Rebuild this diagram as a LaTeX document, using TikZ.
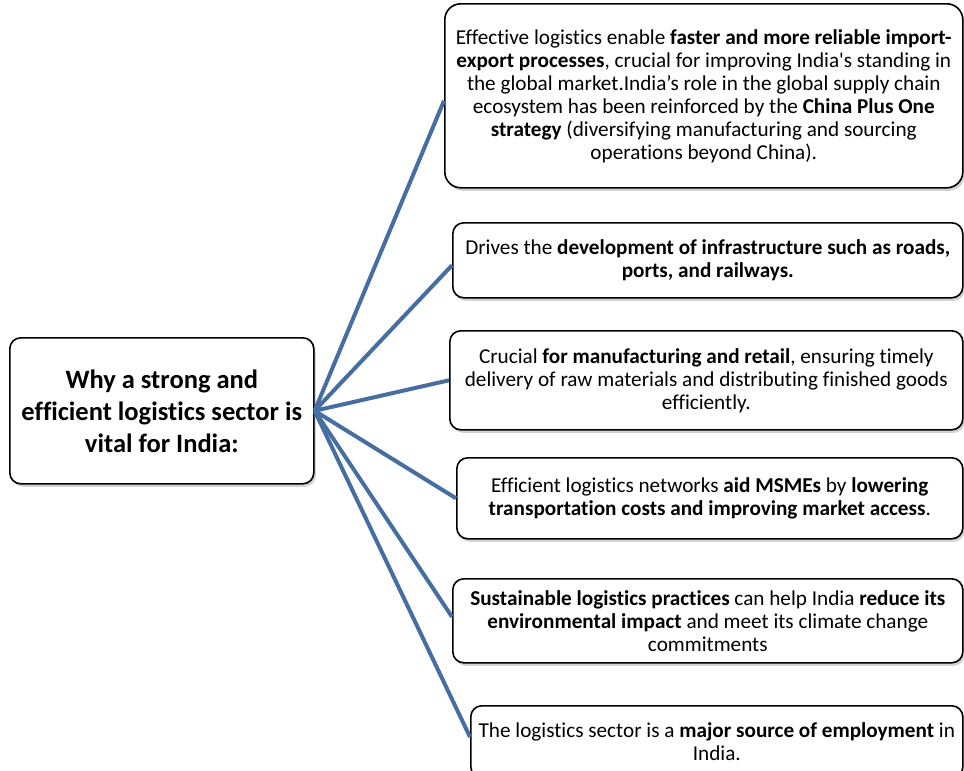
\documentclass[tikz,border=0pt]{standalone}
\usepackage{fontspec}
\setmainfont{Carlito}[Ligatures={TeX,NoCommon}]
\usetikzlibrary{shadows}
\definecolor{linkblue}{RGB}{70,110,160}
\tikzset{
  box/.style={draw=black, line width=1.6pt, rounded corners=11pt, fill=white,
    align=center, inner sep=0pt, anchor=north west,
    drop shadow={opacity=0.35, shadow xshift=2pt, shadow yshift=-3pt},
    font=\fontsize{21.2}{23}\selectfont},
  link/.style={draw=linkblue, line width=4pt}
}
\begin{document}
\begin{tikzpicture}[x=1pt,y=-1pt]
\useasboundingbox (0,0) rectangle (964,771);
\node[box, minimum width=304pt, minimum height=146pt, font=\fontsize{26.5}{32}\selectfont\bfseries] (main) at (9,337)
  {Why a strong and\\efficient logistics sector is\\vital for India:};
\node[box, rounded corners=16pt, minimum width=518pt, minimum height=184pt] (b1) at (444,3)
  {Effective logistics enable \textbf{faster and more reliable import-}\\
   \textbf{export processes}, crucial for improving India\textquotesingle s standing in\\
   the global market.India’s role in the global supply chain\\
   ecosystem has been reinforced by the \textbf{China Plus One}\\
   \textbf{strategy} (diversifying manufacturing and sourcing\\
   operations beyond China).};
\node[box, minimum width=510pt, minimum height=75pt] (b2) at (452,222)
  {Drives the \textbf{development of infrastructure such as roads,}\\
   \textbf{ports, and railways.}};
\node[box, minimum width=513pt, minimum height=99pt] (b3) at (449,330)
  {Crucial \textbf{for manufacturing and retail}, ensuring timely\\
   delivery of raw materials and distributing finished goods\\
   efficiently.};
\node[box, minimum width=506pt, minimum height=81pt] (b4) at (456,457)
  {Efficient logistics networks \textbf{aid MSMEs} by \textbf{lowering}\\
   \textbf{transportation costs and improving market access}.};
\node[box, minimum width=510pt, minimum height=84pt] (b5) at (452,578)
  {\textbf{Sustainable logistics practices} can help India \textbf{reduce its}\\
   \textbf{environmental impact} and meet its climate change\\
   commitments};
\node[box, minimum width=492pt, minimum height=72pt] (b6) at (470,705)
  {The logistics sector is a \textbf{major source of employment} in\\ India.};
\path[link] (main.east) -- ([yshift=-5pt]b1.west);
\path[link] (main.east) -- ([yshift=-5pt]b2.west);
\path[link] (main.east) -- (b3.west);
\path[link] (main.east) -- (b4.west);
\path[link] (main.east) -- ([yshift=4pt]b5.west);
\path[link] (main.east) -- ([yshift=-32pt]b6.north west);
\end{tikzpicture}
\end{document}
